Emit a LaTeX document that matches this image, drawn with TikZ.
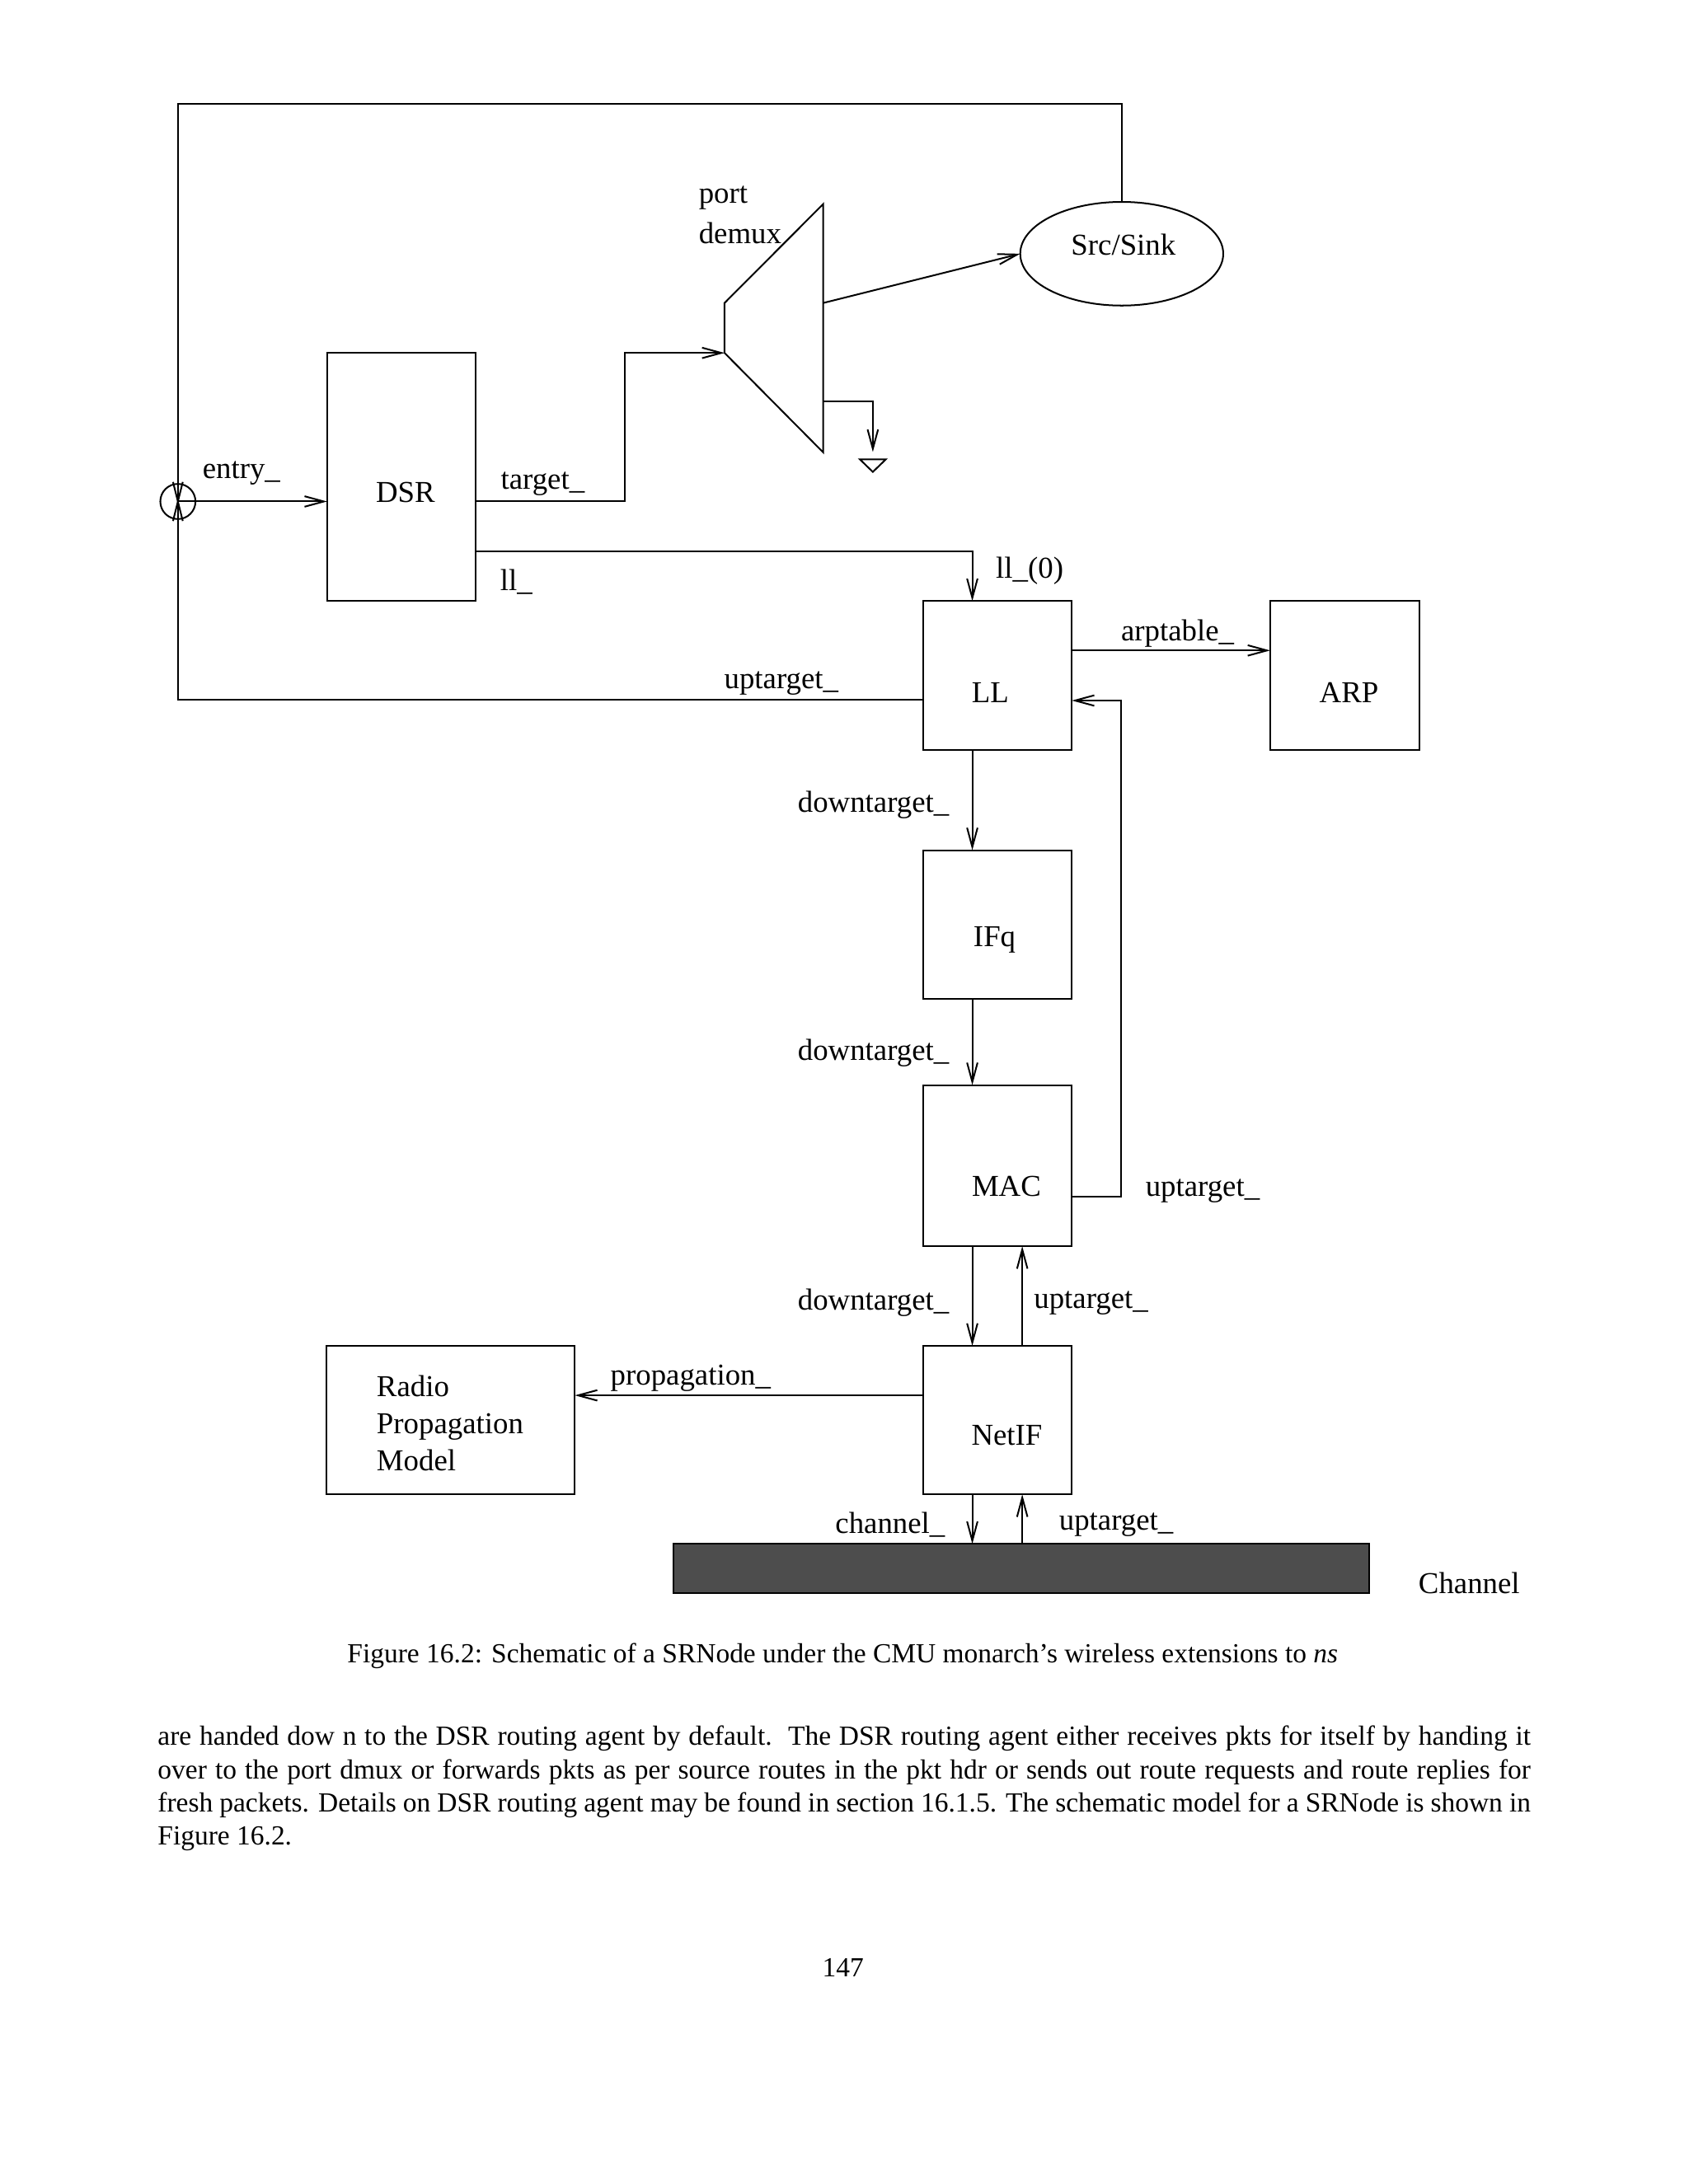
\documentclass[tikz,border=0pt]{standalone}
\usepackage{fontspec}
\setmainfont{Liberation Serif}
\usetikzlibrary{arrows.meta,shapes.geometric,calc}
\definecolor{chgray}{HTML}{4D4D4D}
\def\pu{0.50579pt}
\begin{document}
\begin{tikzpicture}[x=0.50579pt,y=-0.50579pt,
  line width=0.6pt,
  every node/.style={inner sep=0pt, outer sep=0pt},
  lbl/.style={font=\fontsize{11}{13.45}\selectfont},
  box/.style={draw, rectangle, line width=0.6pt},
  arr/.style={-{Straight Barb[length=7pt,width=3.8pt]}},
  bodyline/.style={font=\fontsize{10}{12}\selectfont, anchor=base west},
  ctext/.style={font=\fontsize{10}{12}\selectfont, anchor=base},
]
\useasboundingbox (0,0) rectangle (1210,1565.67);

% ---------- boxes ----------
\node[box, minimum width=106.4*\pu, minimum height=177.9*\pu,
  label={[lbl,shift={(3,11)}]center:DSR}] (dsr) at (287.6,342) {};
\node[box, minimum width=106.7*\pu, minimum height=106.7*\pu,
  label={[lbl,shift={(-5,12.5)}]center:LL}] (ll) at (714.85,484.25) {};
\node[box, minimum width=106.9*\pu, minimum height=106.7*\pu,
  label={[lbl,shift={(3,12.5)}]center:ARP}] (arp) at (963.85,484.25) {};
\node[box, minimum width=106.7*\pu, minimum height=106.7*\pu,
  label={[lbl,shift={(-2,11)}]center:IFq}] (ifq) at (714.85,662.85) {};
\node[box, minimum width=106.7*\pu, minimum height=115.5*\pu,
  label={[lbl,shift={(6.5,15)}]center:MAC}] (mac) at (714.85,835.65) {};
\node[box, minimum width=106.7*\pu, minimum height=106.5*\pu,
  label={[lbl,shift={(6.8,11)}]center:NetIF}] (netif) at (714.85,1018.05) {};
\node[box, minimum width=178.1*\pu, minimum height=106.6*\pu] (radio) at (322.95,1018) {};
\node[lbl, align=left, anchor=west] (radiotxt) at (270,1020.1) {Radio\\Propagation\\Model};
\node[box, fill=chgray, minimum width=498.6*\pu, minimum height=35.4*\pu] (chan) at (732,1124.5) {};
\node[lbl] (chantxt) at (1053,1135) {Channel};

% ---------- Src/Sink ----------
\node[draw, ellipse, minimum width=145.5*\pu, minimum height=74.3*\pu] (src) at (804,181.9) {};
\node[lbl] (srctxt) at (805.2,175.5) {Src/Sink};

% ---------- port demux ----------
\coordinate (dmin) at (519.3,253);
\coordinate (dm1) at (519.3,217.2);
\coordinate (dm2) at (590,146.3);
\coordinate (dm3) at (590,324.3);
\draw (dmin) -- (dm1) -- (dm2) -- (dm3) -- cycle;
\node[lbl, anchor=west] (porttxt) at (500.9,141.8) {port};
\node[lbl, anchor=west] (demuxtxt) at (500.9,167.4) {demux};
\coordinate (dmout) at (590,217.2);
\draw[arr] (dmout) -- (src.west);
\coordinate (gout) at (590,287.9);
\coordinate (gb) at (625.6,287.9);
\coordinate (gtip) at (625.6,324);
\draw[arr] (gout) -- (gb) -- (gtip);
\draw (616.3,329.3) -- (634.9,329.3) -- (625.6,338.3) -- cycle;

% ---------- entry point ----------
\node[draw, circle, minimum size=25.2*\pu] (entry) at (127.5,359.5) {};
\draw ($(entry.center)+(-3.5,-14)$) -- ($(entry.center)+(3.5,14)$);
\draw ($(entry.center)+(3.5,-14)$) -- ($(entry.center)+(-3.5,14)$);
\draw[arr] (entry.center) -- (entry.center -| dsr.west);
\node[lbl] (entrytxt) at (173,339) {entry\_};

% ---------- outer loop (uptarget_ of LL back to entry / Src/Sink) ----------
\coordinate (tl) at (127.5,74.6);
\coordinate (bl) at (127.5,501.8);
\coordinate (tr) at (804,74.6);
\draw (ll.west |- bl) -- (bl) -- (tl) -- (tr) -- (src.north);
\node[lbl] (uptxt1) at (560,490) {uptarget\_};

% ---------- target_ ----------
\coordinate (t1) at (447.8,359.5);
\coordinate (t2) at (447.8,253);
\draw[arr] (dsr.east |- t1) -- (t1) -- (t2) -- (dmin);
\node[lbl] (targettxt) at (389,347) {target\_};

% ---------- ll_ ----------
\coordinate (l1) at (696.9,395.2);
\draw[arr] (dsr.east |- l1) -- (l1) -- (l1 |- ll.north);
\node[lbl] (lltxt) at (370,417) {ll\_};
\node[lbl] (ll0txt) at (738,409.5) {ll\_(0)};

% ---------- arptable_ ----------
\coordinate (a1) at (768.2,466.3);
\draw[arr] (ll.east |- a1) -- (arp.west |- a1);
\node[lbl] (arptxt) at (844,454) {arptable\_};

% ---------- MAC uptarget_ back to LL ----------
\coordinate (r1) at (803.5,857.9);
\coordinate (r2) at (803.5,502.2);
\draw[arr] (mac.east |- r1) -- (r1) -- (r2) -- (ll.east |- r2);
\node[lbl] (uptxt2) at (862,854) {uptarget\_};

% ---------- vertical stack ----------
\coordinate (dx) at (696.9,0);
\coordinate (ux) at (732.7,0);
\draw[arr] (dx |- ll.south) -- (dx |- ifq.north);
\node[lbl] (dt1) at (626,577) {downtarget\_};
\draw[arr] (dx |- ifq.south) -- (dx |- mac.north);
\node[lbl] (dt2) at (626,755) {downtarget\_};
\draw[arr] (dx |- mac.south) -- (dx |- netif.north);
\node[lbl] (dt3) at (626,934) {downtarget\_};
\draw[arr] (ux |- netif.north) -- (ux |- mac.south);
\node[lbl] (uptxt3) at (782,934) {uptarget\_};
\draw[arr] (dx |- netif.south) -- (dx |- chan.north);
\node[lbl] (chtxt) at (638,1093) {channel\_};
\draw[arr] (ux |- chan.north) -- (ux |- netif.south);
\node[lbl] (uptxt4) at (800,1093) {uptarget\_};

% ---------- propagation_ ----------
\coordinate (p1) at (0,1000.3);
\draw[arr] (netif.west |- p1) -- (radio.east |- p1);
\node[lbl] (proptxt) at (495,988) {propagation\_};

% ---------- caption, body text, page number ----------
\node[ctext] (caption) at (604,1192) {Figure 16.2: Schematic of a SRNode under the CMU monarch’s wireless extensions to \textit{ns}};
\node[bodyline] (b1) at (113.1,1251.3) {\makebox[497.7pt][s]{are handed dow n to the DSR routing agent by default.\ \ The DSR routing agent either receives pkts for itself by handing it}};
\node[bodyline] (b2) at (113.1,1275.0) {\makebox[497.7pt][s]{over to the port dmux or forwards pkts as per source routes in the pkt hdr or sends out route requests and route replies for}};
\node[bodyline] (b3) at (113.1,1298.7) {\makebox[497.7pt][s]{fresh packets. Details on DSR routing agent may be found in section 16.1.5. The schematic model for a SRNode is shown in}};
\node[bodyline] (b4) at (113.1,1322.4) {Figure 16.2.};
\node[ctext] (pagenum) at (604.2,1416.9) {147};
\end{tikzpicture}
\end{document}
